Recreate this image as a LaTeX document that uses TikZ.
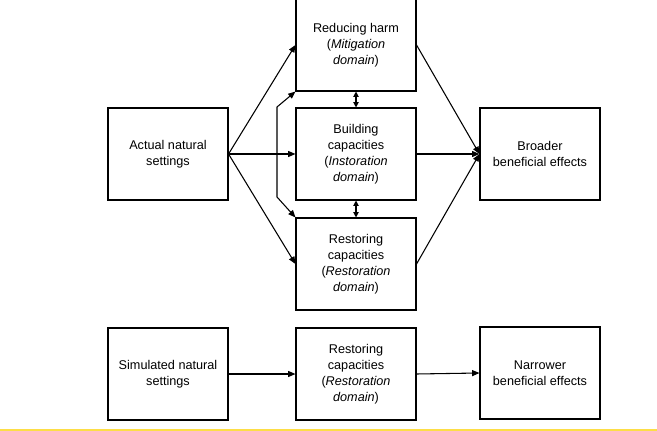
\documentclass[tikz,border=0pt]{standalone}
\usepackage{fontspec}
\setmainfont{Liberation Sans}
\usetikzlibrary{calc}
\usetikzlibrary{arrows.meta}

\definecolor{edgeyellow}{RGB}{253,222,70}

\tikzset{
  domainbox/.style={draw, line width=.8pt, minimum width=90pt, minimum height=69pt, inner sep=1pt, align=center, font=\fontsize{9.5}{12}\selectfont},
  link/.style={line width=.8pt, -{Triangle[length=5.5pt, width=4.5pt]}},
  twoway/.style={line width=.8pt, {Triangle[length=4pt, width=4pt]}-{Triangle[length=4pt, width=4pt]}}
}

\begin{document}
\begin{tikzpicture} [x=.75pt, y=-.75pt]
\useasboundingbox (0,0) rectangle (657,431);
\clip (0,0) rectangle (657,431);
\fill[edgeyellow] (0,428.5) rectangle (657,431);

\node[domainbox] (actual) at (168,154) {Actual natural\\settings};
\node[domainbox] (harm) at (356,45) {Reducing harm\\(\textit{Mitigation}\\\textit{domain})};
\node[domainbox] (build) at (356,154) {Building\\capacities\\(\textit{Instoration}\\\textit{domain})};
\node[domainbox] (restore) at (356,264) {Restoring\\capacities\\(\textit{Restoration}\\\textit{domain})};
\node[domainbox] (broad) at (540,154) {Broader\\beneficial effects};

\node[domainbox] (sim) at (168,374) {Simulated natural\\settings};
\node[domainbox] (restoresim) at (356,374) {Restoring\\capacities\\(\textit{Restoration}\\\textit{domain})};
\node[domainbox] (narrow) at (540,373) {Narrower\\beneficial effects};

\foreach \d in {harm, build, restore} {
  \draw[link] (actual.east) -- (\d.west);
  \draw[link] (\d.east) -- (broad.west);
}

\draw[twoway] (harm.south) -- (build.north);
\draw[twoway] (build.south) -- (restore.north);
\draw[line width=.8pt, {Triangle[length=5.5pt, width=4.5pt]}-{Triangle[length=5.5pt, width=4.5pt]}] (harm.south west) -- (277,107) -- (277,197) -- (restore.north west);

\draw[link] (sim.east) -- (restoresim.west);
\draw[link] (restoresim.east) -- (narrow.west);

\end{tikzpicture}
\end{document}
